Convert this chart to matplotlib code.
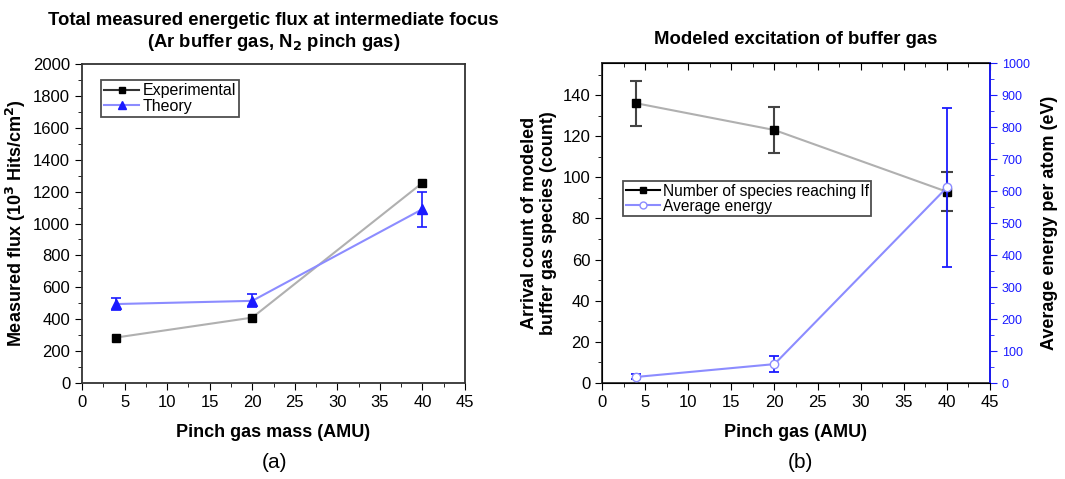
import matplotlib
matplotlib.use("Agg")
import matplotlib.pyplot as plt
from matplotlib.ticker import MultipleLocator, NullFormatter

plt.rcParams['font.family'] = ['Liberation Sans', 'DejaVu Sans']

# Panel (a) data
mass = [4, 20, 40]
exp_flux = [285, 410, 1255]
theory_flux = [495, 515, 1090]
theory_err = [40, 40, 110]

# Panel (b) data
pinch = [4, 20, 40]
species_count = [136, 123, 93]
species_err = [11, 11, 9.5]
avg_energy = [19, 59, 611]
energy_err = [8, 24, 248]

BLUE = '#1a1aff'
LBLUE = '#8c8cff'
GRAY = '#b0b0b0'

fig = plt.figure(figsize=(10.65, 4.79), dpi=100)
W, H = 1065, 479

def rect(x0, x1, y0, y1):
    return [x0 / W, 1 - y1 / H, (x1 - x0) / W, (y1 - y0) / H]

# ---------- Panel (a) ----------
ax1 = fig.add_axes(rect(82, 465, 64, 383))
ax1.plot(mass, exp_flux, color=GRAY, lw=1.5, marker='s', ms=5.5,
         mfc='black', mec='black', zorder=3)
ax1.errorbar(mass, theory_flux, yerr=theory_err, color=LBLUE, lw=1.5,
             marker='^', ms=6.5, mfc=BLUE, mec=BLUE, ecolor=BLUE,
             elinewidth=1.2, capsize=3.5, capthick=1.2, zorder=3)
ax1.set_xlim(0, 45)
ax1.set_ylim(0, 2000)
ax1.xaxis.set_major_locator(MultipleLocator(5))
ax1.xaxis.set_minor_locator(MultipleLocator(2.5))
ax1.yaxis.set_major_locator(MultipleLocator(200))
ax1.yaxis.set_minor_locator(MultipleLocator(100))
ax1.tick_params(which='both', direction='out', labelsize=12)
ax1.tick_params(which='major', length=5)
ax1.tick_params(which='minor', length=3)
for s in ax1.spines.values():
    s.set_linewidth(1.3)
    s.set_color('#333333')
ax1.set_xlabel('Pinch gas mass (AMU)', fontsize=13, fontweight='bold', labelpad=10)
ax1.set_ylabel('Measured flux (10$^\\mathbf{3}$ Hits/cm$^\\mathbf{2}$)', fontsize=13,
               fontweight='bold', labelpad=4)
ax1.set_title('Total measured energetic flux at intermediate focus\n(Ar buffer gas, N$_\\mathbf{2}$ pinch gas)',
              fontsize=13.3, fontweight='bold', pad=12, linespacing=1.25)
g1 = plt.Line2D([], [], color='#333333', lw=1.5, marker='s', ms=5, mfc='black', mec='black')
g2 = plt.Line2D([], [], color=LBLUE, lw=1.5, marker='^', ms=5.5, mfc=BLUE, mec=BLUE)
leg1 = ax1.legend([g1, g2], ['Experimental', 'Theory'],
                  loc='upper left', bbox_to_anchor=(0.05, 0.95), fontsize=11.5,
                  frameon=True, fancybox=False, edgecolor='#222222',
                  handlelength=2.2, handletextpad=0.2, borderpad=0.2,
                  labelspacing=0.05, borderaxespad=0)
leg1.get_frame().set_linewidth(1.3)

# ---------- Panel (b) ----------
ax2 = fig.add_axes(rect(602, 990, 63, 383))
ax2.plot(pinch, species_count, color=GRAY, lw=1.5, zorder=2)
ax2.errorbar(pinch, species_count, yerr=species_err, fmt='s', color='black',
             ms=5.5, mfc='black', mec='black', ecolor='#444444', elinewidth=1.5,
             capsize=4, capthick=1.5, zorder=3)
ax2.set_xlim(0, 45)
ax2.set_ylim(0, 155.6)
ax2.xaxis.set_major_locator(MultipleLocator(5))
ax2.xaxis.set_minor_locator(MultipleLocator(2.5))
ax2.yaxis.set_major_locator(MultipleLocator(20))
ax2.yaxis.set_minor_locator(MultipleLocator(10))
ax2.tick_params(which='both', direction='out', labelsize=12)
ax2.tick_params(which='major', length=5)
ax2.tick_params(which='minor', length=3)
for s in ax2.spines.values():
    s.set_linewidth(1.3)
    s.set_color('#333333')
top = ax2.secondary_xaxis('top')
top.xaxis.set_major_locator(MultipleLocator(5))
top.xaxis.set_minor_locator(MultipleLocator(2.5))
top.xaxis.set_major_formatter(NullFormatter())
top.tick_params(which='both', direction='in')
top.tick_params(which='major', length=5)
top.tick_params(which='minor', length=3)
top.spines['top'].set_linewidth(1.3)
top.spines['top'].set_color('#333333')

ax2.set_xlabel('Pinch gas (AMU)', fontsize=13, fontweight='bold', labelpad=10)
ax2.set_ylabel('Arrival count of modeled\nbuffer gas species (count)', fontsize=13,
               fontweight='bold', labelpad=4, linespacing=1.1)
ax2.set_title('Modeled excitation of buffer gas', fontsize=13.3, fontweight='bold', pad=14)

ax3 = ax2.twinx()
ax3.errorbar(pinch, avg_energy, yerr=energy_err, color=LBLUE, lw=1.5,
             marker='o', ms=6, mfc='white', mec=LBLUE, ecolor=BLUE,
             elinewidth=1.3, capsize=3.5, capthick=1.3, zorder=3)
ax3.set_ylim(0, 1000)
ax3.yaxis.set_major_locator(MultipleLocator(100))
ax3.yaxis.set_minor_locator(MultipleLocator(50))
ax3.tick_params(axis='y', which='both', direction='out', colors=BLUE, labelsize=9)
ax3.tick_params(axis='y', which='major', length=5)
ax3.tick_params(axis='y', which='minor', length=3)
ax3.spines['right'].set_color(BLUE)
ax3.spines['right'].set_linewidth(1.3)
ax3.set_ylabel('Average energy per atom (eV)', fontsize=13, fontweight='bold', labelpad=8)

# legend for panel (b)
h1 = plt.Line2D([], [], color='black', lw=1.5, marker='s', ms=5, mfc='black')
h2 = plt.Line2D([], [], color=LBLUE, lw=1.5, marker='o', ms=5, mfc='white', mec=LBLUE)
leg2 = ax3.legend([h1, h2], ['Number of species reaching If', 'Average energy'],
                  loc='upper left', bbox_to_anchor=(0.055, 0.63), fontsize=11.2,
                  frameon=True, fancybox=False, edgecolor='#222222',
                  handlelength=2.2, handletextpad=0.2, borderpad=0.15,
                  labelspacing=0.0, borderaxespad=0)
leg2.get_frame().set_linewidth(1.3)

fig.text(274 / W, 1 - 463 / H, '(a)', ha='center', va='center', fontsize=15)
fig.text(800 / W, 1 - 463 / H, '(b)', ha='center', va='center', fontsize=15)

fig.savefig('out.png', dpi=100)
